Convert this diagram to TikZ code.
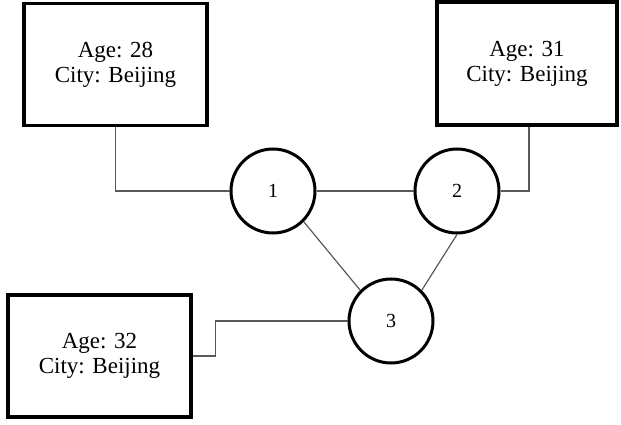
\documentclass[tikz,border=0pt]{standalone}
\usepackage{fontspec}
\setmainfont{Liberation Serif}
\begin{document}
\begin{tikzpicture}[x=1pt,y=-1pt,
  infobox/.style={draw=black,line width=3.6pt,rectangle,inner sep=0pt,align=center,
    font=\fontsize{23}{25}\selectfont},
  person/.style={draw=black,line width=3pt,circle,minimum size=84pt,inner sep=0pt,
    font=\fontsize{20}{22}\selectfont},
  link/.style={draw=black!65,line width=1.2pt}]
\useasboundingbox (0,0) rectangle (621,425);
\node[infobox,minimum width=183pt,minimum height=122pt] (b1) at (115.5,64.5) {Age: 28\\City: Beijing};
\node[infobox,minimum width=180pt,minimum height=123pt] (b2) at (527,63.5) {Age: 31\\City: Beijing};
\node[infobox,minimum width=183pt,minimum height=122pt] (b3) at (99.5,356) {Age: 32\\City: Beijing};
\node[person] (c1) at (273,191) {1};
\node[person] (c2) at (457,191) {2};
\node[person] (c3) at (391,321) {3};
\draw[link] (b1.south) |- (c1.west);
\draw[link] ([xshift=2pt]b2.south) |- (c2.east);
\draw[link] (b3.east) -- ++(23,0) |- (c3.west);
\draw[link] (c1.east) -- (c2.west);
\draw[link] (c1.south east) -- (c3.north west);
\draw[link] (c2.south) -- (c3.north east);
\end{tikzpicture}
\end{document}
